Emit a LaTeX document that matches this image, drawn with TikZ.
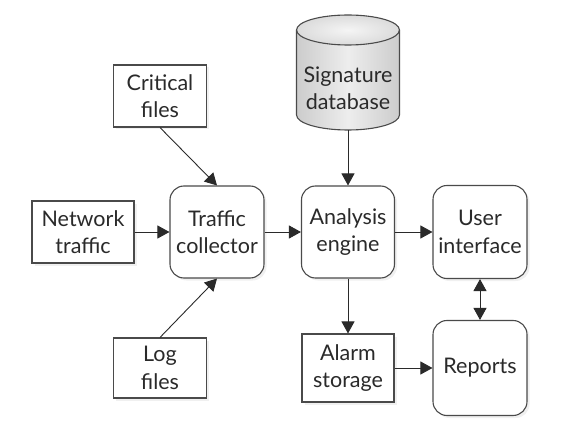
\documentclass[tikz,border=0pt]{standalone}
\usepackage{fontspec}
\setmainfont{Lato}
\usetikzlibrary{arrows.meta,shadows}
\definecolor{ink}{HTML}{2A2A2A}
\definecolor{edge}{HTML}{4A4A4A}
\begin{document}
\begin{tikzpicture}[x=1pt, y=1pt,
		font=\fontsize{21.5}{27.5}\selectfont, text=ink,
		box/.style={draw=edge, line width=1.1pt, fill=white, align=center, inner sep=0pt,
			drop shadow={shadow xshift=2.5pt, shadow yshift=-2.5pt, fill=black!20, opacity=.3}},
		proc/.style={box, rounded corners=14pt},
		flow/.style={draw=ink, line width=0.9pt, -{Triangle[length=12pt,width=13pt]}}]
		\useasboundingbox (0,0) rectangle (568,432);
		% database
		\shade[left color=black!20, right color=black!20, middle color=black!7]
			(296.5,402) -- (296.5,317) arc[start angle=180, end angle=360, x radius=51.5, y radius=15]
			-- (399.5,402) arc[start angle=0, end angle=180, x radius=51.5, y radius=15] -- cycle;
		\shade[inner color=black!4, outer color=black!14] (348,402) ellipse[x radius=51.5, y radius=15];
		\draw[edge, line width=1.1pt] (296.5,402) -- (296.5,317) arc[start angle=180, end angle=360, x radius=51.5, y radius=15]
			-- (399.5,402);
		\draw[edge, line width=1.1pt] (348,402) ellipse[x radius=51.5, y radius=15];
		\node[align=center, minimum height=84pt] (sigdb) at (348,344) {Signature\\database};
		% inputs
		\node[box, minimum width=93pt, minimum height=62pt] (critical) at (160,336) {Critical\\files};
		\node[box, minimum width=102pt, minimum height=62pt] (network) at (83,200) {Network\\traffic};
		\node[box, minimum width=93pt, minimum height=60pt] (logf) at (160,64) {Log\\files};
		% processing
		\node[proc, minimum width=94pt, minimum height=92pt] (collector) at (217,200) {Traffic\\collector};
		\node[proc, minimum width=93pt, minimum height=92pt] (analysis) at (348,200) {Analysis\\engine};
		\node[proc, minimum width=94pt, minimum height=93pt] (user) at (480,200) {User\\interface};
		\node[box, minimum width=92pt, minimum height=68pt] (alarm) at (348,64) {Alarm\\storage};
		\node[proc, minimum width=94pt, minimum height=95pt] (reports) at (480,64) {Reports};
		% connectors
		\draw[flow] (critical.south) -- (collector.north);
		\draw[flow] (logf.north) -- (collector.south);
		\draw[flow] (network) -- (collector);
		\draw[flow] (collector) -- (analysis);
		\draw[flow] (sigdb.south) -- (analysis.north);
		\draw[flow] (analysis) -- (user);
		\draw[flow] (analysis) -- (alarm);
		\draw[flow] (alarm) -- (reports);
		\draw[flow, {Triangle[length=12pt,width=13pt]}-{Triangle[length=12pt,width=13pt]}] (user) -- (reports);
	\end{tikzpicture}
\end{document}
